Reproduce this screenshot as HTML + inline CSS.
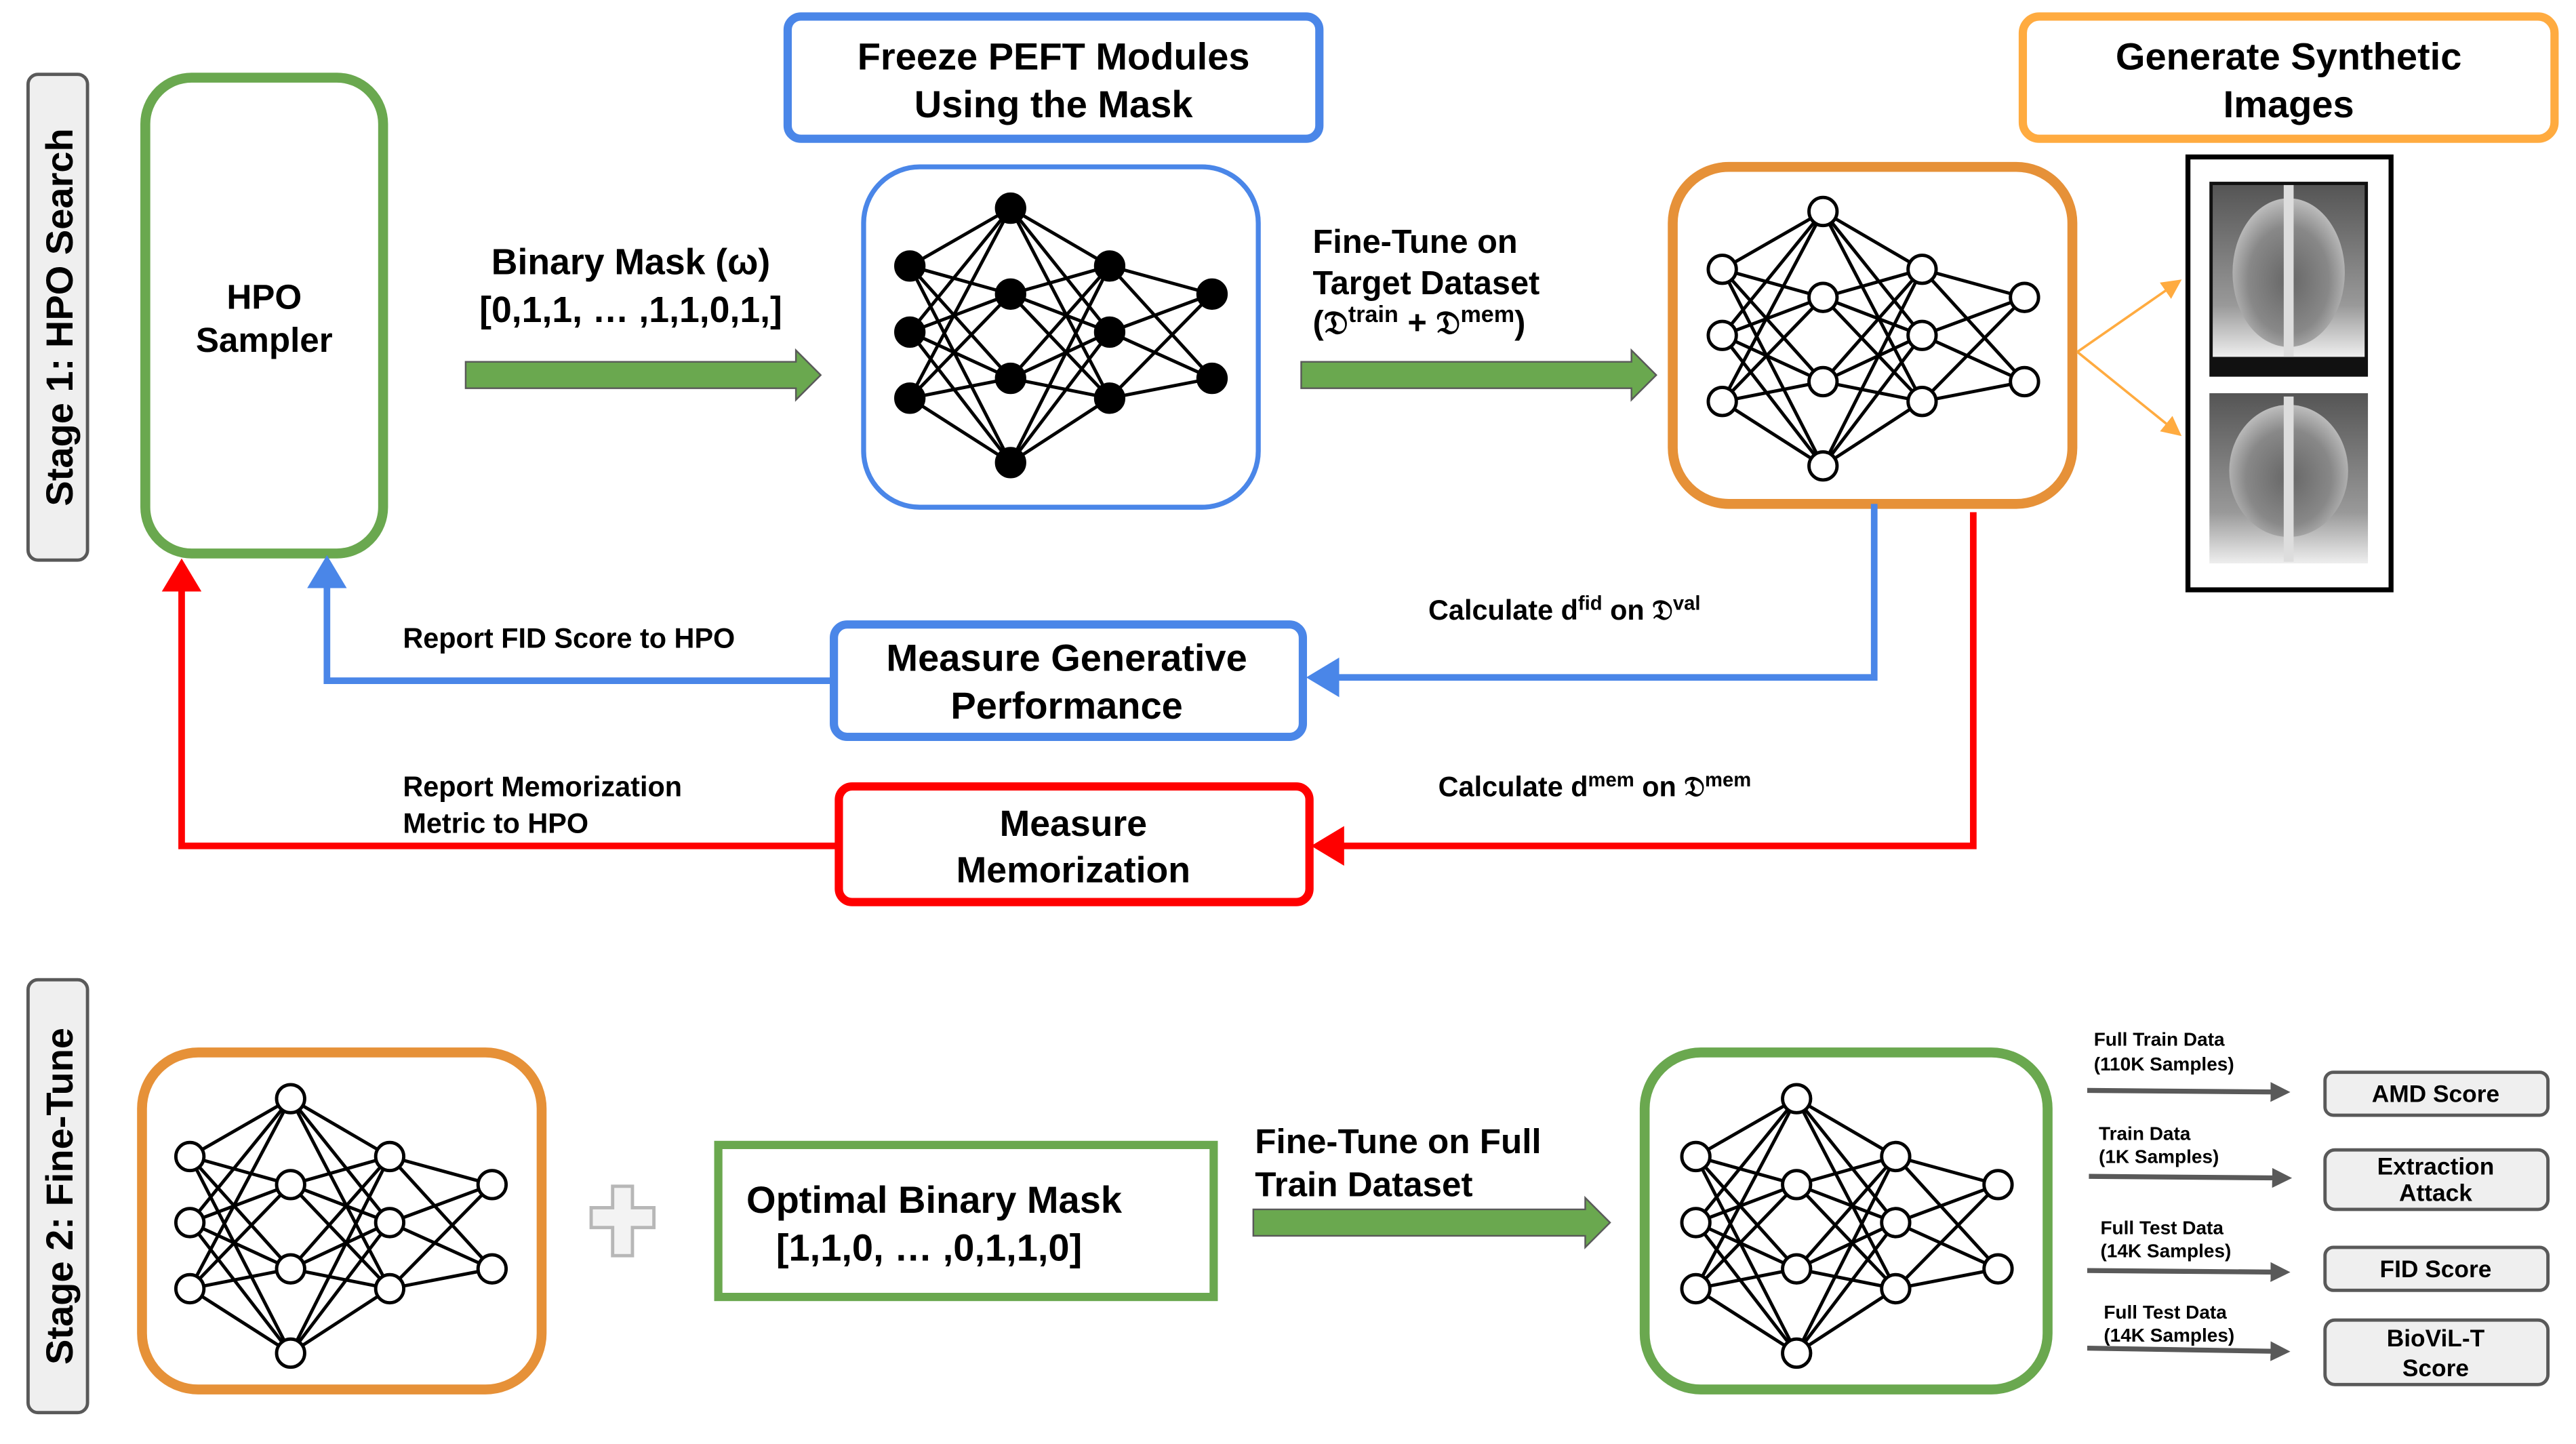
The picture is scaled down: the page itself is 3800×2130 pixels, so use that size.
<!DOCTYPE html>
<html><head><meta charset="utf-8"><style>
html,body{margin:0;padding:0;background:#fff;}
svg{display:block;}
text{font-family:"Liberation Sans",Arial,sans-serif;font-weight:bold;fill:#000;}
</style></head><body>
<svg id="s" width="3800" height="2130" viewBox="0 0 1560 874" preserveAspectRatio="none" xmlns="http://www.w3.org/2000/svg">
<defs>
<marker id="ab" markerWidth="5" markerHeight="6" refX="4" refY="3" orient="auto" markerUnits="strokeWidth"><path d="M0,0 L5,3 L0,6 z" fill="#4a86e8"/></marker>
<marker id="ar" markerWidth="5" markerHeight="6" refX="4" refY="3" orient="auto" markerUnits="strokeWidth"><path d="M0,0 L5,3 L0,6 z" fill="#ff0000"/></marker>
<marker id="ao" markerWidth="8" markerHeight="8" refX="7" refY="4" orient="auto" markerUnits="strokeWidth"><path d="M0,0 L8,4 L0,8 z" fill="#ffab40"/></marker>
<marker id="ag" markerWidth="4" markerHeight="4" refX="3" refY="2" orient="auto" markerUnits="strokeWidth"><path d="M0,0 L4,2 L0,4 z" fill="#595959"/></marker>
<radialGradient id="lung" cx="50%" cy="55%" r="60%"><stop offset="0" stop-color="#666"/><stop offset="0.6" stop-color="#888"/><stop offset="1" stop-color="#ccc"/></radialGradient>
<linearGradient id="base" x1="0" y1="0" x2="0" y2="1"><stop offset="0" stop-color="#555"/><stop offset="0.7" stop-color="#999"/><stop offset="1" stop-color="#eee"/></linearGradient>
</defs>

<rect x="17" y="45" width="36" height="294" rx="6" fill="#efefef" stroke="#595959" stroke-width="2"/>
<text transform="translate(44,192) rotate(-90)" font-size="23" text-anchor="middle">Stage 1: HPO Search</text>
<rect x="17" y="593" width="36" height="262" rx="6" fill="#efefef" stroke="#595959" stroke-width="2"/>
<text transform="translate(44,724) rotate(-90)" font-size="23" text-anchor="middle">Stage 2: Fine-Tune</text>

<rect x="88" y="47" width="144" height="288" rx="28" fill="#fff" stroke="#6aa84f" stroke-width="6"/>
<text x="160" y="187" font-size="21" text-anchor="middle">HPO</text>
<text x="160" y="213" font-size="21" text-anchor="middle">Sampler</text>

<text x="382" y="166" font-size="22" text-anchor="middle">Binary Mask (ω)</text>
<text x="382" y="195" font-size="22" text-anchor="middle">[0,1,1, … ,1,1,0,1,]</text>
<path d="M282,219 H482 V212 L497,227 L482,242 V235 H282 Z" fill="#6aa84f" stroke="#595959" stroke-width="1"/>

<rect x="477" y="10" width="322" height="74" rx="8" fill="#fff" stroke="#4a86e8" stroke-width="5"/>
<text x="638" y="42" font-size="23" text-anchor="middle">Freeze PEFT Modules</text>
<text x="638" y="71" font-size="23" text-anchor="middle">Using the Mask</text>

<rect x="523" y="101" width="239" height="206" rx="34" fill="#fff" stroke="#4a86e8" stroke-width="3"/>
<g id="netA"></g>

<text x="795" y="153" font-size="20">Fine-Tune on</text>
<text x="795" y="178" font-size="20">Target Dataset</text>
<text x="795" y="202" font-size="20">(𝔇<tspan font-size="14" dy="-7">train</tspan><tspan dy="7"> + 𝔇</tspan><tspan font-size="14" dy="-7">mem</tspan><tspan dy="7">)</tspan></text>
<path d="M788,219 H988 V212 L1003,227 L988,242 V235 H788 Z" fill="#6aa84f" stroke="#595959" stroke-width="1"/>

<rect x="1013" y="101" width="242" height="204" rx="34" fill="#fff" stroke="#e69138" stroke-width="6"/>
<g id="netB"></g>

<rect x="1225" y="10" width="322" height="74" rx="10" fill="#fff" stroke="#ffab40" stroke-width="5"/>
<text x="1386" y="42" font-size="23" text-anchor="middle">Generate Synthetic</text>
<text x="1386" y="71" font-size="23" text-anchor="middle">Images</text>
<rect x="1325" y="95" width="123" height="262" fill="#fff" stroke="#000" stroke-width="3"/>
<rect x="1338" y="110" width="96" height="118" fill="#111"/>
<rect x="1340" y="112" width="92" height="104" fill="url(#base)"/>
<ellipse cx="1386" cy="165" rx="34" ry="45" fill="url(#lung)"/>
<rect x="1383" y="112" width="6" height="104" fill="#ddd"/>
<rect x="1338" y="238" width="96" height="103" fill="url(#base)"/>
<ellipse cx="1386" cy="285" rx="36" ry="40" fill="url(#lung)"/>
<rect x="1383" y="240" width="6" height="100" fill="#ddd"/>
<path d="M1258,213 L1320,170" stroke="#ffab40" stroke-width="1.5" marker-end="url(#ao)"/>
<path d="M1258,213 L1320,263" stroke="#ffab40" stroke-width="1.5" marker-end="url(#ao)"/>

<path d="M1135,305 V410 H795" fill="none" stroke="#4a86e8" stroke-width="4" marker-end="url(#ab)"/>
<path d="M505,412 H198 V340" fill="none" stroke="#4a86e8" stroke-width="4" marker-end="url(#ab)"/>
<text x="865" y="375" font-size="17">Calculate d<tspan font-size="12" dy="-6">fid</tspan><tspan dy="6"> on 𝔇</tspan><tspan font-size="12" dy="-6">val</tspan></text>
<text x="244" y="392" font-size="17">Report FID Score to HPO</text>
<rect x="505" y="378" width="284" height="68" rx="8" fill="#fff" stroke="#4a86e8" stroke-width="5"/>
<text x="646" y="406" font-size="23" text-anchor="middle">Measure Generative</text>
<text x="646" y="435" font-size="23" text-anchor="middle">Performance</text>

<path d="M1195,310 V512 H798" fill="none" stroke="#ff0000" stroke-width="4" marker-end="url(#ar)"/>
<path d="M508,512 H110 V342" fill="none" stroke="#ff0000" stroke-width="4" marker-end="url(#ar)"/>
<text x="871" y="482" font-size="17">Calculate d<tspan font-size="12" dy="-6">mem</tspan><tspan dy="6"> on 𝔇</tspan><tspan font-size="12" dy="-6">mem</tspan></text>
<text x="244" y="482" font-size="17">Report Memorization</text>
<text x="244" y="504" font-size="17">Metric to HPO</text>
<rect x="508" y="476" width="285" height="70" rx="8" fill="#fff" stroke="#ff0000" stroke-width="5"/>
<text x="650" y="506" font-size="22" text-anchor="middle">Measure</text>
<text x="650" y="534" font-size="22" text-anchor="middle">Memorization</text>

<rect x="86" y="637" width="242" height="204" rx="34" fill="#fff" stroke="#e69138" stroke-width="6"/>
<g id="netC"></g>
<path d="M358,731 h13 v-13 h12 v13 h13 v12 h-13 v17 h-12 v-17 h-13 z" fill="#f3f3f3" stroke="#b7b7b7" stroke-width="2"/>
<rect x="435" y="693" width="300" height="92" fill="#fff" stroke="#6aa84f" stroke-width="5"/>
<text x="452" y="734" font-size="23">Optimal Binary Mask</text>
<text x="470" y="763" font-size="23">[1,1,0, … ,0,1,1,0]</text>
<text x="760" y="698" font-size="21">Fine-Tune on Full</text>
<text x="760" y="724" font-size="21">Train Dataset</text>
<path d="M759,732 H960 V725 L975,740 L960,755 V748 H759 Z" fill="#6aa84f" stroke="#595959" stroke-width="1"/>
<rect x="996" y="637" width="244" height="204" rx="34" fill="#fff" stroke="#6aa84f" stroke-width="6"/>
<g id="netD"></g>

<g>
<text x="1268" y="633" font-size="11.5">Full Train Data</text>
<text x="1268" y="648" font-size="11.5">(110K Samples)</text>
<text x="1271" y="690" font-size="11.5">Train Data</text>
<text x="1271" y="704" font-size="11.5">(1K Samples)</text>
<text x="1272" y="747" font-size="11.5">Full Test Data</text>
<text x="1272" y="761" font-size="11.5">(14K Samples)</text>
<text x="1274" y="798" font-size="11.5">Full Test Data</text>
<text x="1274" y="812" font-size="11.5">(14K Samples)</text>
</g>
<g stroke="#595959" stroke-width="3" marker-end="url(#ag)">
<line x1="1264" y1="660" x2="1384" y2="661"/>
<line x1="1265" y1="712" x2="1385" y2="713"/>
<line x1="1264" y1="769" x2="1384" y2="770"/>
<line x1="1264" y1="816" x2="1384" y2="818"/>
</g>
<g fill="#efefef" stroke="#595959" stroke-width="2">
<rect x="1408" y="649" width="135" height="26" rx="5"/>
<rect x="1408" y="696" width="135" height="36" rx="6"/>
<rect x="1408" y="755" width="135" height="26" rx="5"/>
<rect x="1408" y="799" width="135" height="39" rx="6"/>
</g>
<g text-anchor="middle">
<text x="1475" y="667" font-size="14.5">AMD Score</text>
<text x="1475" y="711" font-size="14.5">Extraction</text>
<text x="1475" y="727" font-size="14.5">Attack</text>
<text x="1475" y="773" font-size="14.5">FID Score</text>
<text x="1475" y="815" font-size="14.5">BioViL-T</text>
<text x="1475" y="833" font-size="14.5">Score</text>
</g>
</svg>
<script>
var cols=[[551,[161,201,241]],[612,[126,178,229,280]],[672,[161,201,241]],[734,[178,229]]];
function net(id,dx,dy,fill){
 var g=document.getElementById(id),h="";
 for(var c=0;c<3;c++){var a=cols[c],b=cols[c+1];
  a[1].forEach(function(y1){b[1].forEach(function(y2){
   h+='<line x1="'+(a[0]+dx)+'" y1="'+(y1+dy)+'" x2="'+(b[0]+dx)+'" y2="'+(y2+dy)+'" stroke="#000" stroke-width="2"/>';});});}
 cols.forEach(function(c){c[1].forEach(function(y){
  h+='<circle cx="'+(c[0]+dx)+'" cy="'+(y+dy)+'" r="8.5" fill="'+fill+'" stroke="#000" stroke-width="2"/>';});});
 g.innerHTML=h;
}
net("netA",0,0,"#000");
net("netB",492,2,"#fff");
net("netC",-436,539,"#fff");
net("netD",476,539,"#fff");
</script>
</body></html>
